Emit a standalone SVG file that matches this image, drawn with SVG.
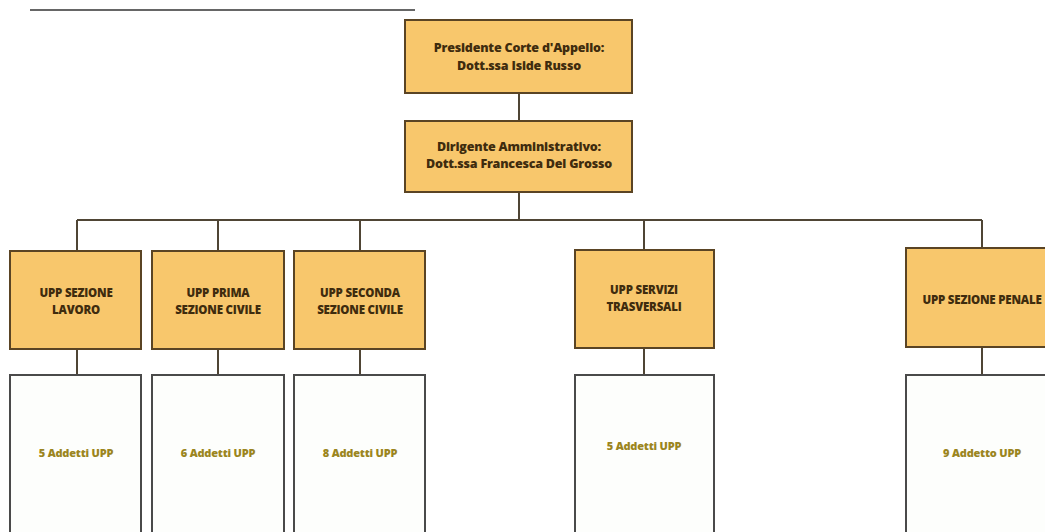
<svg xmlns="http://www.w3.org/2000/svg" width="1045" height="532" viewBox="0 0 1045 532">
<style>
.o{fill:#f8c76c;stroke:#5a4424;stroke-width:2}
.w{fill:#fdfefc;stroke:#4a4a4a;stroke-width:2}
.c{fill:none;stroke:#4f4535;stroke-width:2}
.t{font-family:"Open Sans","Liberation Sans",sans-serif;font-weight:800;font-size:11.5px;fill:#3f2c0e;text-anchor:middle;letter-spacing:-0.2px}
.big{font-size:12.5px}
.u{font-family:"Open Sans","Liberation Sans",sans-serif;font-weight:800;font-size:11px;fill:#9b8520;text-anchor:middle;letter-spacing:-0.2px}
</style>
<rect width="1045" height="532" fill="#ffffff"/>
<line x1="30" y1="10" x2="415" y2="10" stroke="#333" stroke-width="1.5"/>
<g id="connectors">
<path class="c" d="M519 93V121M519 192V220M77 220H982M77 220V250M218 220V250M360 220V250M644 220V250M982 220V248"/>
<path class="c" d="M77 349V375M218 349V375M360 349V375M644 348V375M982 347V375"/>
</g>
<g id="n-presidente"><rect class="o" x="405" y="20" width="227" height="73"/>
<text class="t big" x="519" y="52">Presidente Corte d'Appello:</text><text class="t big" x="519" y="70">Dott.ssa Iside Russo</text></g>
<g id="n-dirigente"><rect class="o" x="405" y="121" width="227" height="71"/>
<text class="t big" x="519" y="151">Dirigente Amministrativo:</text><text class="t big" x="519" y="168">Dott.ssa Francesca Del Grosso</text></g>
<g id="n-lavoro"><rect class="o" x="10" y="251" width="131" height="98"/>
<text class="t" x="76" y="297">UPP SEZIONE</text><text class="t" x="76" y="314">LAVORO</text></g>
<g id="n-prima"><rect class="o" x="152" y="251" width="132" height="98"/>
<text class="t" x="218" y="297">UPP PRIMA</text><text class="t" x="218" y="314">SEZIONE CIVILE</text></g>
<g id="n-seconda"><rect class="o" x="294" y="251" width="131" height="98"/>
<text class="t" x="360" y="297">UPP SECONDA</text><text class="t" x="360" y="314">SEZIONE CIVILE</text></g>
<g id="n-servizi"><rect class="o" x="575" y="250" width="139" height="98"/>
<text class="t" x="644" y="294">UPP SERVIZI</text><text class="t" x="644" y="311">TRASVERSALI</text></g>
<g id="n-penale"><rect class="o" x="906" y="248" width="150" height="99"/>
<text class="t" x="982" y="304">UPP SEZIONE PENALE</text></g>
<g id="n-a1"><rect class="w" x="10" y="375" width="131" height="170"/><text class="u" x="76" y="457">5 Addetti UPP</text></g>
<g id="n-a2"><rect class="w" x="152" y="375" width="132" height="170"/><text class="u" x="218" y="457">6 Addetti UPP</text></g>
<g id="n-a3"><rect class="w" x="294" y="375" width="131" height="170"/><text class="u" x="360" y="457">8 Addetti UPP</text></g>
<g id="n-a4"><rect class="w" x="575" y="375" width="139" height="170"/><text class="u" x="644" y="450">5 Addetti UPP</text></g>
<g id="n-a5"><rect class="w" x="906" y="375" width="150" height="170"/><text class="u" x="982" y="457">9 Addetto UPP</text></g>
</svg>
